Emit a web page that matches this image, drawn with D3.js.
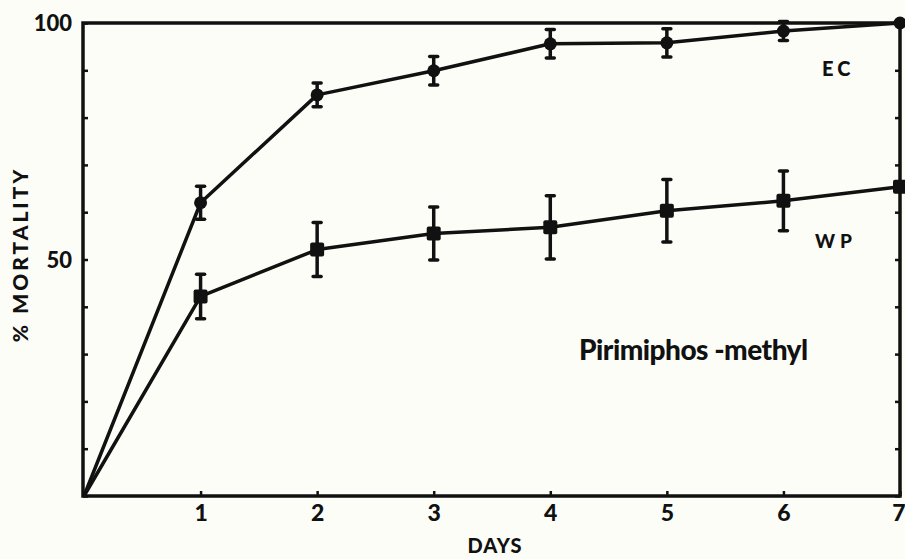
<!DOCTYPE html>
<html>
<head>
<meta charset="utf-8">
<script src="https://cdn.jsdelivr.net/npm/d3@7"></script>
<style>
  body { margin: 0; background: #fdfdf8; }
  svg { display: block; }
  text { font-family: Lato, "DejaVu Sans", sans-serif; font-weight: 900; fill: #111; }
</style>
</head>
<body>
<script>
const width = 905,
  height = 559,
  margin = { top: 23, right: 5, bottom: 62, left: 83 };

// data
const days = [0, 1, 2, 3, 4, 5, 6, 7];
const ecMean = [0, 62, 84.8, 89.9, 95.6, 95.8, 98.3, 100];
const ecErr = [0, 3.5, 2.5, 3, 3, 3, 2, 0];
const wpMean = [0, 42.2, 52.1, 55.5, 56.8, 60.3, 62.4, 65.4];
const wpErr = [0, 4.7, 5.7, 5.6, 6.7, 6.6, 6.3, 0];
const yTicks = [0, 10, 20, 30, 40, 50, 60, 70, 80, 90, 100];
const yLabels = [50, 100];
const xLabels = [1, 2, 3, 4, 5, 6, 7];

const x = d3.scaleLinear().domain([0, 7]).range([margin.left + 1, width - margin.right]);
const y = d3.scaleLinear().domain([0, 100]).range([height - margin.bottom - 1, margin.top]);

const svg = d3.select('body').append('svg')
  .attr('width', width)
  .attr('height', height);

const ink = '#111';

// frame
svg.append('rect')
  .attr('x', x(0) - 1)
  .attr('y', y(100))
  .attr('width', x(7) - x(0) + 1)
  .attr('height', y(0) - y(100))
  .attr('fill', 'none')
  .attr('stroke', ink)
  .attr('stroke-width', 3.5);

const yAxis = svg.append('g')
  .attr('transform', 'translate(' + (x(0) - 1) + ',0)')
  .call(d3.axisLeft(y).tickValues(yTicks).tickSizeInner(-5).tickSizeOuter(0)
    .tickFormat(d => yLabels.includes(d) ? d : ''));
yAxis.select('.domain').remove();
yAxis.selectAll('.tick line').attr('stroke', ink).attr('stroke-width', 2.5);
yAxis.selectAll('.tick text')
  .attr('x', -11)
  .style('font-size', '22px')
  .attr('dy', '0.36em');

const yAxisR = svg.append('g')
  .attr('transform', 'translate(' + x(7) + ',0)')
  .call(d3.axisRight(y).tickValues(yTicks).tickSizeInner(-5).tickSizeOuter(0).tickFormat(''));
yAxisR.select('.domain').remove();
yAxisR.selectAll('.tick line').attr('stroke', ink).attr('stroke-width', 2.5);

const xAxis = svg.append('g')
  .attr('transform', 'translate(0,' + y(0) + ')')
  .call(d3.axisBottom(x).tickValues(xLabels).tickSizeInner(-5).tickSizeOuter(0)
    .tickFormat(d3.format('d')));
xAxis.select('.domain').remove();
xAxis.selectAll('.tick line').attr('stroke', ink).attr('stroke-width', 2.5);
xAxis.selectAll('.tick text')
  .attr('y', 9)
  .style('font-size', '23px')
  .attr('text-anchor', d => d === 7 ? 'end' : 'middle')
  .attr('x', d => d === 7 ? 5 : 0);

// axis titles
svg.append('text')
  .attr('transform', 'translate(20,' + ((y(0) + y(100)) / 2 - 5) + ') rotate(-90)')
  .attr('text-anchor', 'middle')
  .attr('dy', '0.36em')
  .style('font-size', '21px')
  .style('letter-spacing', '3px')
  .text('% MORTALITY');

svg.append('text')
  .attr('x', 495)
  .attr('y', 553)
  .attr('text-anchor', 'middle')
  .style('font-size', '20px')
  .style('letter-spacing', '1px')
  .text('DAYS');

const line = d3.line()
  .x((d, i) => x(days[i]))
  .y(d => y(d));

function drawSeries(mean, err, marker) {
  const g = svg.append('g');
  g.append('path')
    .datum(mean)
    .attr('d', line)
    .attr('fill', 'none')
    .attr('stroke', ink)
    .attr('stroke-width', 3.5)
    .attr('stroke-linejoin', 'round');

  const pts = days.map((d, i) => ({ d: d, m: mean[i], e: err[i] })).filter(p => p.d > 0);

  const bars = pts.filter(p => p.e > 0);
  g.selectAll('line.err')
    .data(bars).enter()
    .append('line')
    .attr('class', 'err')
    .attr('x1', p => x(p.d)).attr('x2', p => x(p.d))
    .attr('y1', p => y(p.m - p.e)).attr('y2', p => y(p.m + p.e))
    .attr('stroke', ink).attr('stroke-width', 3.5);
  [-1, 1].forEach(s => {
    g.selectAll('line.cap' + s)
      .data(bars).enter()
      .append('line')
      .attr('x1', p => x(p.d) - 4).attr('x2', p => x(p.d) + 4)
      .attr('y1', p => y(p.m + s * p.e)).attr('y2', p => y(p.m + s * p.e))
      .attr('stroke', ink).attr('stroke-width', 3.5)
      .attr('stroke-linecap', 'round');
  });

  if (marker === 'circle') {
    g.selectAll('circle')
      .data(pts).enter()
      .append('circle')
      .attr('cx', p => x(p.d)).attr('cy', p => y(p.m))
      .attr('r', 6.5)
      .attr('fill', ink);
  } else {
    g.selectAll('rect.mk')
      .data(pts).enter()
      .append('rect')
      .attr('class', 'mk')
      .attr('x', p => x(p.d) - 7).attr('y', p => y(p.m) - 7)
      .attr('width', 14).attr('height', 14)
      .attr('rx', 2)
      .attr('fill', ink);
  }
}

drawSeries(ecMean, ecErr, 'circle');
drawSeries(wpMean, wpErr, 'square');

// labels
svg.append('text')
  .attr('x', 822).attr('y', 76)
  .style('font-size', '20px')
  .style('letter-spacing', '4px')
  .text('EC');

svg.append('text')
  .attr('x', 815).attr('y', 248)
  .style('font-size', '19px')
  .style('letter-spacing', '5px')
  .text('WP');

svg.append('text')
  .attr('x', 579).attr('y', 360)
  .style('font-size', '28px')
  .style('letter-spacing', '-0.5px')
  .text('Pirimiphos -methyl');
</script>
</body>
</html>
